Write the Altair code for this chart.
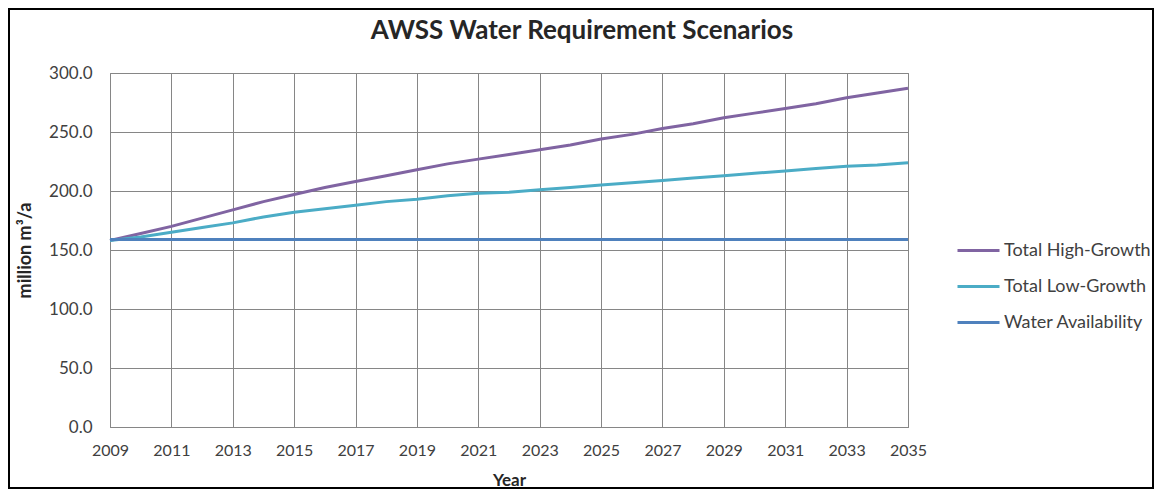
import altair as alt
import pandas as pd

years = list(range(2009, 2036))
high_growth = [158, 164, 170, 177, 184, 191, 197, 203, 208, 213, 218, 223, 227, 231, 235,
               239, 244, 248, 253, 257, 262, 266, 270, 274, 279, 283, 287]
low_growth = [158, 161, 165, 169, 173, 178, 182, 185, 188, 191, 193, 196, 198, 199, 201,
              203, 205, 207, 209, 211, 213, 215, 217, 219, 221, 222, 224]
availability = [159] * len(years)

series_names = ["Total High-Growth", "Total Low-Growth", "Water Availability"]
series_colors = ["#8064A2", "#4BACC6", "#4F81BD"]
x_ticks = list(range(2009, 2036, 2))
y_ticks = [0, 50, 100, 150, 200, 250, 300]
chart_title = "AWSS Water Requirement Scenarios"

rows = []
for name, vals in zip(series_names, [high_growth, low_growth, availability]):
    for y, v in zip(years, vals):
        rows.append({"Year": y, "Value": v, "Series": name})
df = pd.DataFrame(rows)

FONT = "Lato"

lines = alt.Chart(df).mark_line(strokeWidth=3).encode(
    x=alt.X("Year:Q",
            scale=alt.Scale(domain=[2009, 2035], nice=False, zero=False),
            axis=alt.Axis(values=x_ticks, format="d", title="Year",
                          labelFontSize=16, labelColor="#404040", labelPadding=15,
                          labelFlush=False,
                          titleFontSize=17, titleFontWeight="bold", titleColor="#262626",
                          titlePadding=14, ticks=False, domainColor="#868686",
                          gridColor="#868686", gridOpacity=1, labelFont=FONT, titleFont=FONT)),
    y=alt.Y("Value:Q",
            scale=alt.Scale(domain=[0, 300], nice=False),
            axis=alt.Axis(values=y_ticks, format=".1f", title="million m³/a",
                          labelFontSize=17, labelColor="#404040", labelPadding=18,
                          titleFontSize=18, titleFontWeight="bold", titleColor="#262626",
                          titlePadding=14, ticks=False, domain=False,
                          gridColor="#868686", gridOpacity=1, labelFont=FONT, titleFont=FONT)),
    color=alt.Color("Series:N",
                    scale=alt.Scale(domain=series_names, range=series_colors),
                    legend=alt.Legend(title=None, orient="none", legendX=846, legendY=155,
                                      symbolType="stroke", symbolStrokeWidth=3, symbolSize=1764,
                                      labelFontSize=18, labelColor="#404040", labelFont=FONT,
                                      labelOffset=3, rowPadding=4)),
)

deco = pd.DataFrame({"t": [chart_title]})

border = alt.Chart(deco).mark_rect(
    fill=None, stroke="#000000", strokeWidth=2
).encode(
    x=alt.value(-101), x2=alt.value(1043), y=alt.value(-64), y2=alt.value(415)
)

title_text = alt.Chart(deco).mark_text(
    font=FONT, fontSize=26, fontWeight="bold", color="#262626",
    align="center", baseline="middle"
).encode(
    x=alt.value(472), y=alt.value(-42), text="t:N"
)

chart = alt.layer(lines, border, title_text).properties(
    width=798,
    height=354,
    autosize=alt.AutoSizeParams(type="none"),
    padding={"left": 102, "top": 65, "right": 246, "bottom": 62},
).configure_view(
    stroke="#868686", strokeWidth=1
).configure_axis(
    gridWidth=1
)

chart.save("out.html", embed_options={"renderer": "svg", "actions": False})
